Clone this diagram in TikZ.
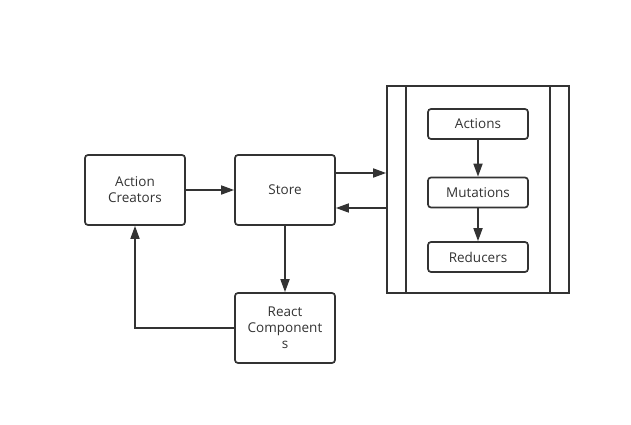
\documentclass[tikz,border=0pt]{standalone}
\usepackage{fontspec}
\setmainfont{Open Sans}
\usetikzlibrary{arrows.meta}
\definecolor{couleurtrait}{HTML}{333333}
\definecolor{couleurtext}{HTML}{333333}
\tikzset{
		basic/.style={draw=couleurtrait, rounded corners=3pt, line width=1.7pt, align=center, text=couleurtext, inner sep=0pt, anchor=center},
		grand/.style={basic, minimum width=100pt, minimum height=70pt},
		petit/.style={basic, minimum width=100pt, minimum height=30pt},
		pile/.style={draw=couleurtrait, line width=1.7pt, minimum width=182pt, minimum height=207pt, inner sep=0pt},
		fleche/.style={draw=couleurtrait, line width=1.7pt, -{Triangle[length=13pt,width=9pt]}}
	}
\begin{document}
\begin{tikzpicture}[x=1pt, y=-1pt]
		\fontsize{13.5}{16} \selectfont
		\useasboundingbox (0,0) rectangle (631,425);
		% boites de gauche
		\node[grand](actcrea) at (135,190){Action\\Creators};
		\node[grand](store) at (285,190){Store};
		\node[grand](reactcmp) at (285,328){React\\Component\\s};
		% bloc de droite
		\node[pile](vuex) at (478,189.5){};
		\draw[couleurtrait, line width=1.7pt] ([xshift=20pt]vuex.north west) -- ([xshift=20pt]vuex.south west);
		\draw[couleurtrait, line width=1.7pt] ([xshift=-20pt]vuex.north east) -- ([xshift=-20pt]vuex.south east);
		\node[petit](actions) at (478,124){Actions};
		\node[petit](mutation) at (478,192.5){Mutations};
		\node[petit](reducers) at (478,257){Reducers};
		% fleches
		\draw[fleche] (actcrea) -- (store);
		\draw[fleche] ([yshift=17pt]store.east) -- ([yshift=17pt]store.east -| vuex.west);
		\draw[fleche] ([yshift=-18pt]store.east -| vuex.west) -- ([yshift=-18pt]store.east);
		\draw[fleche] (store) -- (reactcmp);
		\draw[fleche] (reactcmp.west) -| (actcrea.south);
		\draw[fleche] (actions) -- (mutation);
		\draw[fleche] (mutation) -- (reducers);
	\end{tikzpicture}
\end{document}
